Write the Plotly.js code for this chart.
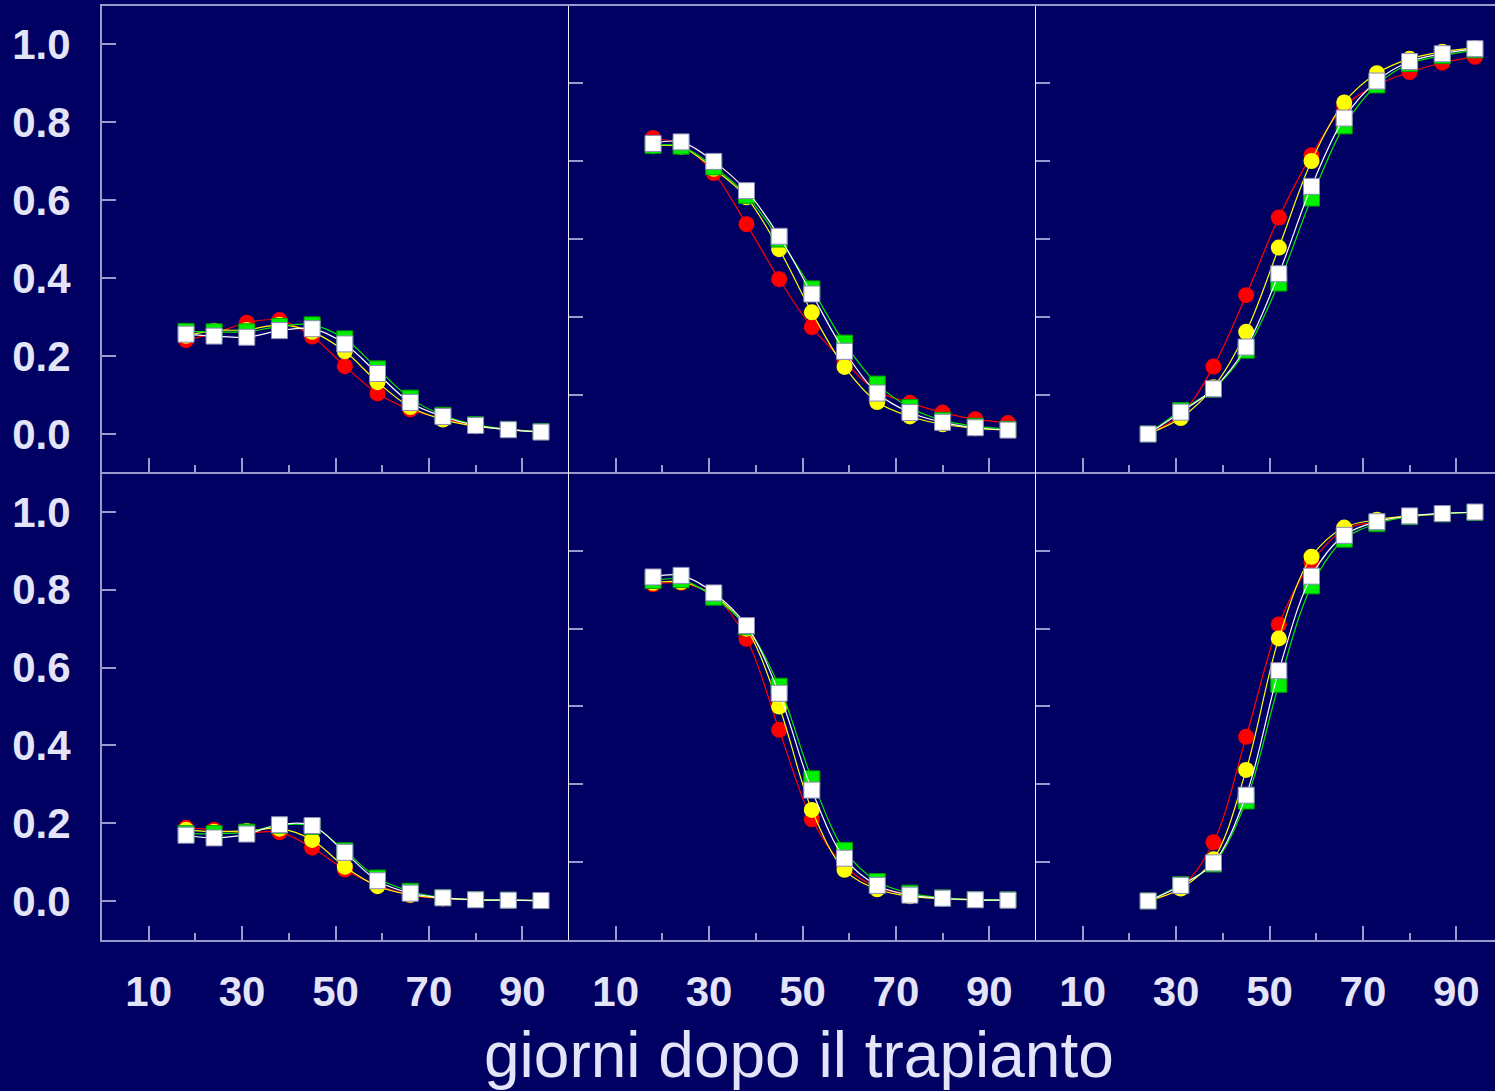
<!DOCTYPE html>
<html>
<head>
<meta charset="utf-8">
<script src="https://cdn.plot.ly/plotly-3.0.1.min.js"></script>
<style>
  html, body { margin: 0; padding: 0; background: #000062; overflow: hidden; }
  #chart { width: 1495px; height: 1091px; }
</style>
</head>
<body>
<div id="chart"></div>
<script>
// ---------- data ----------
const days = [18, 24, 31, 38, 45, 52, 59, 66, 73, 80, 87, 94];
const daysLate = [24, 31, 38, 45, 52, 59, 66, 73, 80, 87, 94];

const xTickVals = [10, 30, 50, 70, 90];
const yTickVals = [0.0, 0.2, 0.4, 0.6, 0.8, 1.0];
const yTickText = ["0.0", "0.2", "0.4", "0.6", "0.8", "1.0"];
const yInnerTickVals = [0.1, 0.3, 0.5, 0.7, 0.9];
const xTitle = "giorni dopo il trapianto";

// panel A (top-left)
const aRed    = [0.241, 0.258, 0.285, 0.292, 0.250, 0.174, 0.104, 0.063, 0.040, 0.022, 0.012, 0.006];
const aYellow = [0.252, 0.265, 0.267, 0.280, 0.262, 0.212, 0.133, 0.069, 0.037, 0.020, 0.011, 0.005];
const aGreen  = [0.263, 0.262, 0.262, 0.276, 0.280, 0.244, 0.167, 0.092, 0.048, 0.024, 0.012, 0.006];
const aWhite  = [0.256, 0.251, 0.248, 0.265, 0.270, 0.231, 0.155, 0.081, 0.045, 0.022, 0.011, 0.005];

// panel B (top-middle)
const bRed    = [0.759, 0.742, 0.669, 0.538, 0.397, 0.274, 0.185, 0.110, 0.080, 0.055, 0.038, 0.028];
const bYellow = [0.738, 0.736, 0.680, 0.607, 0.474, 0.312, 0.172, 0.082, 0.045, 0.025, 0.015, 0.010];
const bGreen  = [0.740, 0.738, 0.685, 0.612, 0.500, 0.372, 0.233, 0.128, 0.068, 0.035, 0.020, 0.012];
const bWhite  = [0.745, 0.749, 0.699, 0.624, 0.507, 0.359, 0.212, 0.105, 0.055, 0.030, 0.016, 0.010];

// panel C (top-right)
const cRed    = [0.000, 0.050, 0.173, 0.356, 0.555, 0.715, 0.840, 0.895, 0.928, 0.952, 0.967];
const cYellow = [0.000, 0.041, 0.120, 0.262, 0.478, 0.700, 0.850, 0.925, 0.962, 0.980, 0.990];
const cGreen  = [0.000, 0.060, 0.115, 0.215, 0.387, 0.605, 0.790, 0.895, 0.950, 0.970, 0.985];
const cWhite  = [0.000, 0.056, 0.116, 0.223, 0.411, 0.635, 0.810, 0.905, 0.955, 0.975, 0.988];

// panel D (bottom-left)
const dRed    = [0.188, 0.183, 0.175, 0.177, 0.137, 0.081, 0.040, 0.015, 0.006, 0.003, 0.002, 0.001];
const dYellow = [0.183, 0.178, 0.180, 0.186, 0.157, 0.088, 0.038, 0.016, 0.007, 0.003, 0.002, 0.001];
const dGreen  = [0.173, 0.173, 0.177, 0.195, 0.192, 0.129, 0.059, 0.025, 0.009, 0.004, 0.002, 0.001];
const dWhite  = [0.169, 0.162, 0.172, 0.196, 0.194, 0.125, 0.052, 0.020, 0.008, 0.003, 0.002, 0.001];

// panel E (bottom-middle)
const eRed    = [0.814, 0.818, 0.785, 0.674, 0.440, 0.210, 0.090, 0.035, 0.018, 0.008, 0.004, 0.003];
const eYellow = [0.818, 0.820, 0.785, 0.700, 0.500, 0.234, 0.080, 0.030, 0.012, 0.006, 0.003, 0.002];
const eGreen  = [0.824, 0.826, 0.781, 0.705, 0.552, 0.314, 0.130, 0.050, 0.020, 0.008, 0.004, 0.003];
const eWhite  = [0.833, 0.837, 0.792, 0.708, 0.534, 0.285, 0.110, 0.040, 0.015, 0.007, 0.003, 0.002];

// panel F (bottom-right)
const fRed    = [0.000, 0.035, 0.151, 0.422, 0.711, 0.870, 0.955, 0.975, 0.988, 0.995, 1.000];
const fYellow = [0.000, 0.032, 0.107, 0.337, 0.675, 0.885, 0.960, 0.980, 0.990, 0.996, 1.000];
const fGreen  = [0.000, 0.042, 0.095, 0.257, 0.557, 0.810, 0.930, 0.970, 0.988, 0.995, 0.999];
const fWhite  = [0.000, 0.040, 0.098, 0.272, 0.592, 0.835, 0.940, 0.975, 0.990, 0.996, 1.000];

// ---------- styling ----------
const BG = "#000062";
const AXIS = "#9a9acc";
const DIVIDER = "#f2f2ff";
const LABEL = "#e4e4f8";
const FONT = "Liberation Sans, Arial, Helvetica, sans-serif";

const W = 1495, H = 1091;
const colPx = [[102, 569], [569, 1036], [1036, 1495]];
const rowPx = [[6, 472], [472, 940]];
const pxPerDay = 467 / 100;
const yRanges = [[-0.0974, 1.0974], [-0.1003, 1.1028]];

const panels = [
  {x: days,     s: [aRed, aYellow, aGreen, aWhite]},
  {x: days,     s: [bRed, bYellow, bGreen, bWhite]},
  {x: daysLate, s: [cRed, cYellow, cGreen, cWhite]},
  {x: days,     s: [dRed, dYellow, dGreen, dWhite]},
  {x: days,     s: [eRed, eYellow, eGreen, eWhite]},
  {x: daysLate, s: [fRed, fYellow, fGreen, fWhite]}
];

const seriesStyle = [
  {line: "#ff0000", marker: {symbol: "circle", size: 16, color: "#ff0000"}},
  {line: "#ffff00", marker: {symbol: "circle", size: 16, color: "#ffff00"}},
  {line: "#00e800", marker: {symbol: "square", size: 16, color: "#00ee00", line: {color: "#00a000", width: 1}}},
  {line: "#ffffff", marker: {symbol: "square", size: 16, color: "#ffffff", line: {color: "#8a8ab8", width: 1}}}
];

const traces = [];
const layout = {
  width: W, height: H,
  margin: {l: 0, r: 0, t: 0, b: 0},
  paper_bgcolor: BG,
  plot_bgcolor: BG,
  showlegend: false,
  annotations: [{
    text: xTitle,
    xref: "paper", yref: "paper",
    x: 798.5 / W, y: 1 - 1055 / H,
    xanchor: "center", yanchor: "middle",
    showarrow: false,
    font: {family: FONT, size: 64, color: LABEL}
  }]
};

panels.forEach((p, i) => {
  const row = Math.floor(i / 3), col = i % 3;
  const xa = i === 0 ? "x" : "x" + (i + 1);
  const ya = i === 0 ? "y" : "y" + (i + 1);
  p.s.forEach((vals, k) => {
    const st = seriesStyle[k];
    traces.push({
      type: "scatter", mode: "lines+markers",
      x: p.x, y: vals,
      xaxis: xa, yaxis: ya,
      line: {color: st.line, width: 1.2, shape: "spline", smoothing: 1},
      marker: st.marker,
      cliponaxis: false,
      hoverinfo: "skip"
    });
  });

  const cx = colPx[col], ry = rowPx[row];
  const xRangeMax = (cx[1] - cx[0]) / pxPerDay;
  const xKey = i === 0 ? "xaxis" : "xaxis" + (i + 1);
  const yKey = i === 0 ? "yaxis" : "yaxis" + (i + 1);

  layout[xKey] = {
    domain: [cx[0] / W, cx[1] / W],
    anchor: ya,
    range: [0, xRangeMax],
    tickmode: "array",
    tickvals: xTickVals,
    ticks: "inside", ticklen: 14, tickwidth: 2, tickcolor: AXIS,
    minor: {tickmode: "linear", tick0: 0, dtick: 10, ticks: "inside", ticklen: 7, tickwidth: 2, tickcolor: AXIS, showgrid: false},
    showticklabels: row === 1,
    ticklabelstandoff: 14,
    tickfont: {family: FONT, size: 42, weight: "bold", color: LABEL},
    showline: true, linecolor: AXIS, linewidth: 2,
    mirror: row === 0,
    showgrid: false, zeroline: false, fixedrange: true
  };

  const left = col === 0;
  layout[yKey] = {
    domain: [1 - ry[1] / H, 1 - ry[0] / H],
    anchor: xa,
    range: yRanges[row],
    tickmode: "array",
    tickvals: left ? yTickVals : yInnerTickVals,
    ticktext: left ? yTickText : undefined,
    ticks: "inside", ticklen: 14, tickwidth: 2, tickcolor: AXIS,
    showticklabels: left,
    ticklabelstandoff: 21,
    tickfont: {family: FONT, size: 42, weight: "bold", color: LABEL},
    showline: true, linecolor: left ? AXIS : DIVIDER, linewidth: left ? 2 : 1.5,
    showgrid: false, zeroline: false, fixedrange: true
  };
});

Plotly.newPlot("chart", traces, layout, {staticPlot: true, displayModeBar: false});
</script>
</body>
</html>
